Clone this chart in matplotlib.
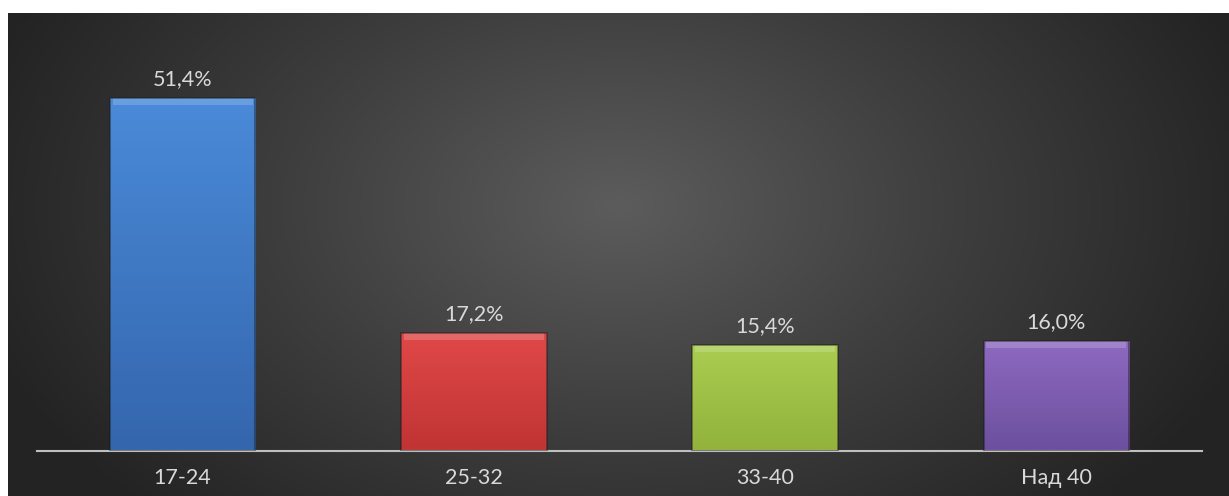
import numpy as np
import matplotlib
matplotlib.use("Agg")
import matplotlib.pyplot as plt
from matplotlib.colors import LinearSegmentedColormap

# Data
categories = ["17-24", "25-32", "33-40", "Над 40"]
values = [51.4, 17.2, 15.4, 16.0]
labels = ["51,4%", "17,2%", "15,4%", "16,0%"]
top_colors = ["#4a8ad8", "#e04848", "#aacd50", "#8d6ac0"]
bottom_colors = ["#3466ad", "#c03434", "#92b23c", "#6c4f9e"]

plt.rcParams["font.family"] = ["Lato", "DejaVu Sans"]

W, H = 1229, 496
fig = plt.figure(figsize=(W / 100, H / 100), dpi=100)
fig.patch.set_facecolor("white")

# Dark radial background (white margin top/left like the source)
bg = fig.add_axes([8 / W, 0, 1 - 8 / W, 1 - 13 / H])
bg.set_axis_off()
yy, xx = np.mgrid[0:1:300j, 0:1:600j]
r = np.sqrt(((xx - 0.5) / 0.55) ** 2 + ((yy - 0.6) / 0.9) ** 2)
r = np.clip(r, 0, 1)
bg_cmap = LinearSegmentedColormap.from_list("bg", ["#5c5c5c", "#3e3e3e", "#232323"])
bg.imshow(r, cmap=bg_cmap, aspect="auto", extent=(0, 1, 0, 1), origin="lower",
          interpolation="bilinear")

# Plot area: baseline at y=451 px, axis from x=37 to 1202
ax_left, ax_right = 37, 1202
base_px = H - 451
ymax = 60
px_per_unit = 353 / 51.4
ax = fig.add_axes([ax_left / W, base_px / H, (ax_right - ax_left) / W, ymax * px_per_unit / H])
ax.set_xlim(-0.5, 3.5)
ax.set_ylim(0, ymax)
ax.patch.set_alpha(0)
for s in ["top", "right", "left"]:
    ax.spines[s].set_visible(False)
ax.spines["bottom"].set_color("#bfbfbf")
ax.spines["bottom"].set_linewidth(1.5)
ax.set_yticks([])
ax.set_xticks(range(len(categories)))
ax.set_xticklabels(categories, color="#d9d9d9", fontsize=15.5)
ax.tick_params(axis="x", length=0, pad=12)

x = np.arange(len(categories))
width = 0.5
bars = ax.bar(x, values, width=width, color="none", edgecolor="none", zorder=2)

grad = np.linspace(0, 1, 100).reshape(-1, 1)
bevel = 1.0
for i, (b, v) in enumerate(zip(bars, values)):
    cmap = LinearSegmentedColormap.from_list(f"c{i}", [bottom_colors[i], top_colors[i]])
    im = ax.imshow(grad, cmap=cmap, aspect="auto", origin="lower",
                   extent=(x[i] - width / 2, x[i] + width / 2, 0, v), zorder=2)
    im.set_clip_path(b)
    # bevel highlight on top and darker edges
    ax.bar(x[i], bevel, bottom=v - bevel, width=width * 0.96, color="white", alpha=0.18,
           edgecolor="none", zorder=3)
    ax.bar(x[i], v, width=width, color="none", edgecolor="#1a1a1a", linewidth=1.2,
           alpha=0.5, zorder=4)
    ax.text(x[i], v + 1.3, labels[i], ha="center", va="bottom", color="#d9d9d9",
            fontsize=15.5, zorder=5)

ax.set_xlim(-0.5, 3.5)
ax.set_ylim(0, ymax)

fig.savefig("out.png", dpi=100)
